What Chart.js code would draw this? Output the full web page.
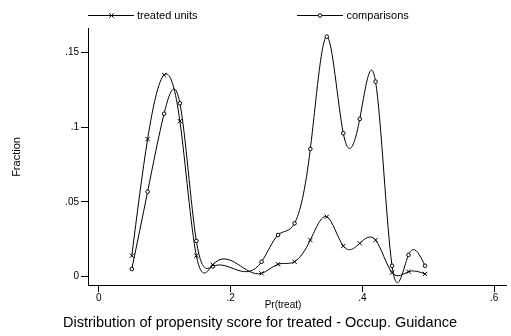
<!DOCTYPE html>
<html>
<head>
<meta charset="utf-8">
<script src="https://cdn.jsdelivr.net/npm/chart.js@4/dist/chart.umd.min.js"></script>
<style>
  html, body { margin: 0; padding: 0; background: #fff; }
  canvas { display: block; }
</style>
</head>
<body>
<canvas id="chart" width="511" height="336"></canvas>
<script>
// Propensity score bin midpoints and the fraction of each group per bin
const propensity = [0.050, 0.074, 0.099, 0.123, 0.148, 0.173, 0.247, 0.272, 0.297,
                    0.321, 0.346, 0.371, 0.396, 0.420, 0.445, 0.470, 0.495];
const treatedUnits = [0.0139, 0.0920, 0.1350, 0.1040, 0.0139, 0.0078, 0.0021, 0.0082, 0.0099,
                      0.0244, 0.0400, 0.0204, 0.0222, 0.0244, 0.0026, 0.0032, 0.0017];
const comparisons = [0.0050, 0.0568, 0.1090, 0.1160, 0.0238, 0.0068, 0.0099, 0.0278, 0.0356,
                     0.0854, 0.1606, 0.0959, 0.1055, 0.1305, 0.0072, 0.0144, 0.0072];

const seriesNames = ['treated units', 'comparisons'];
const xTicks = [0, 0.2, 0.4, 0.6];
const xTickLabels = ['0', '.2', '.4', '.6'];
const yTicks = [0, 0.05, 0.1, 0.15];
const yTickLabels = ['0', '.05', '.1', '.15'];
const xTitle = 'Pr(treat)';
const yTitle = 'Fraction';
const caption = 'Distribution of propensity score for treated - Occup. Guidance';

const FONT = '"Liberation Sans", Arial, Helvetica, sans-serif';

// Slopes of a natural cubic spline through the given knots
function naturalSlopes(xs, ys) {
  const n = xs.length;
  const h = [];
  for (let i = 0; i < n - 1; i++) h.push(xs[i + 1] - xs[i]);
  const M = new Array(n).fill(0);
  if (n > 2) {
    const m = n - 2, A = [], B = [], C = [], D = [];
    for (let i = 1; i < n - 1; i++) {
      A.push(h[i - 1]);
      B.push(2 * (h[i - 1] + h[i]));
      C.push(h[i]);
      D.push(6 * ((ys[i + 1] - ys[i]) / h[i] - (ys[i] - ys[i - 1]) / h[i - 1]));
    }
    for (let i = 1; i < m; i++) {
      const w = A[i] / B[i - 1];
      B[i] -= w * C[i - 1];
      D[i] -= w * D[i - 1];
    }
    const sol = new Array(m);
    sol[m - 1] = D[m - 1] / B[m - 1];
    for (let i = m - 2; i >= 0; i--) sol[i] = (D[i] - C[i] * sol[i + 1]) / B[i];
    for (let i = 0; i < m; i++) M[i + 1] = sol[i];
  }
  const s = new Array(n);
  for (let i = 0; i < n - 1; i++) {
    s[i] = (ys[i + 1] - ys[i]) / h[i] - h[i] * (2 * M[i] + M[i + 1]) / 6;
  }
  s[n - 1] = (ys[n - 1] - ys[n - 2]) / h[n - 2] + h[n - 2] * (M[n - 2] + 2 * M[n - 1]) / 6;
  return s;
}

// Replace the default bezier control points with natural-spline ones
const splinePlugin = {
  id: 'naturalSpline',
  beforeDatasetDraw(chart, args) {
    const meta = args.meta;
    const line = meta.dataset;
    line.updateControlPoints(chart.chartArea, meta.iScale.axis);
    const pts = meta.data;
    const xs = pts.map(p => p.x), ys = pts.map(p => p.y);
    const s = naturalSlopes(xs, ys);
    pts.forEach((p, i) => {
      const hPrev = i > 0 ? xs[i] - xs[i - 1] : 0;
      const hNext = i < pts.length - 1 ? xs[i + 1] - xs[i] : 0;
      p.cp1x = xs[i] - hPrev / 3;
      p.cp1y = ys[i] - s[i] * hPrev / 3;
      p.cp2x = xs[i] + hNext / 3;
      p.cp2y = ys[i] + s[i] * hNext / 3;
    });
    line._path = undefined;
  }
};

// Legend row, axis titles and caption
const textPlugin = {
  id: 'labels',
  afterDraw(chart) {
    const ctx = chart.ctx;
    ctx.save();
    ctx.fillStyle = '#000';
    ctx.strokeStyle = '#000';
    ctx.lineWidth = 1;

    // legend
    const entries = [
      { x0: 88, x1: 134, mx: 111.5, tx: 137, style: 'cross' },
      { x0: 297, x1: 343, mx: 320, tx: 346.5, style: 'circle' }
    ];
    const ly = 15.5;
    ctx.font = '11px ' + FONT;
    ctx.textBaseline = 'middle';
    ctx.textAlign = 'left';
    entries.forEach((e, i) => {
      ctx.beginPath();
      ctx.moveTo(e.x0, ly);
      ctx.lineTo(e.x1, ly);
      ctx.stroke();
      if (e.style === 'cross') {
        const r = 2.2;
        ctx.beginPath();
        ctx.moveTo(e.mx - r, ly - r); ctx.lineTo(e.mx + r, ly + r);
        ctx.moveTo(e.mx - r, ly + r); ctx.lineTo(e.mx + r, ly - r);
        ctx.stroke();
      } else {
        ctx.beginPath();
        ctx.arc(e.mx, ly, 1.8, 0, Math.PI * 2);
        ctx.fillStyle = '#fff';
        ctx.fill();
        ctx.stroke();
        ctx.fillStyle = '#000';
      }
      ctx.fillText(chart.data.datasets[i].label, e.tx, ly);
    });

    // y axis title
    ctx.save();
    ctx.translate(17, 157);
    ctx.rotate(-Math.PI / 2);
    ctx.textAlign = 'center';
    ctx.font = '11px ' + FONT;
    ctx.fillText(yTitle, 0, 0);
    ctx.restore();

    // x axis title
    ctx.textAlign = 'center';
    ctx.font = '10px ' + FONT;
    ctx.fillText(xTitle, 283, 305);

    // caption
    ctx.font = '14.5px ' + FONT;
    ctx.fillText(caption, 260, 323);
    ctx.restore();
  }
};

const pointSet = (values) => propensity.map((x, i) => ({ x: x, y: values[i] }));

new Chart(document.getElementById('chart'), {
  type: 'line',
  data: {
    datasets: [
      {
        label: seriesNames[0],
        data: pointSet(treatedUnits),
        borderColor: '#000',
        borderWidth: 1,
        tension: 0.4,
        pointStyle: 'crossRot',
        pointRadius: 3,
        pointBorderColor: '#000',
        pointBorderWidth: 1,
        fill: false
      },
      {
        label: seriesNames[1],
        data: pointSet(comparisons),
        borderColor: '#000',
        borderWidth: 1,
        tension: 0.4,
        pointStyle: 'circle',
        pointRadius: 1.8,
        pointBackgroundColor: '#fff',
        pointBorderColor: '#000',
        pointBorderWidth: 1,
        fill: false
      }
    ]
  },
  options: {
    responsive: false,
    animation: false,
    devicePixelRatio: 1,
    layout: { padding: { top: 28, right: 1, left: 0, bottom: 0 } },
    plugins: {
      legend: { display: false },
      tooltip: { enabled: false },
      title: { display: false }
    },
    scales: {
      x: {
        type: 'linear',
        min: -0.0165,
        max: 0.618,
        afterBuildTicks: s => { s.ticks = xTicks.map(v => ({ value: v })); },
        afterFit: s => { s.height = 51; },
        grid: { drawOnChartArea: false, drawTicks: true, tickLength: 7, color: '#000', lineWidth: 1 },
        border: { display: true, color: '#000', width: 1 },
        ticks: {
          color: '#000',
          font: { family: FONT, size: 10 },
          padding: 0,
          maxRotation: 0,
          autoSkip: false,
          callback: (v) => xTickLabels[xTicks.indexOf(v)]
        }
      },
      y: {
        type: 'linear',
        min: -0.0057,
        max: 0.1664,
        afterBuildTicks: s => { s.ticks = yTicks.map(v => ({ value: v })); },
        afterFit: s => { s.width = 88; },
        grid: { drawOnChartArea: false, drawTicks: true, tickLength: 7, color: '#000', lineWidth: 1 },
        border: { display: true, color: '#000', width: 1 },
        ticks: {
          color: '#000',
          font: { family: FONT, size: 10 },
          padding: 2,
          autoSkip: false,
          callback: (v) => yTickLabels[yTicks.indexOf(v)]
        }
      }
    }
  },
  plugins: [splinePlugin, textPlugin]
});
</script>
</body>
</html>
